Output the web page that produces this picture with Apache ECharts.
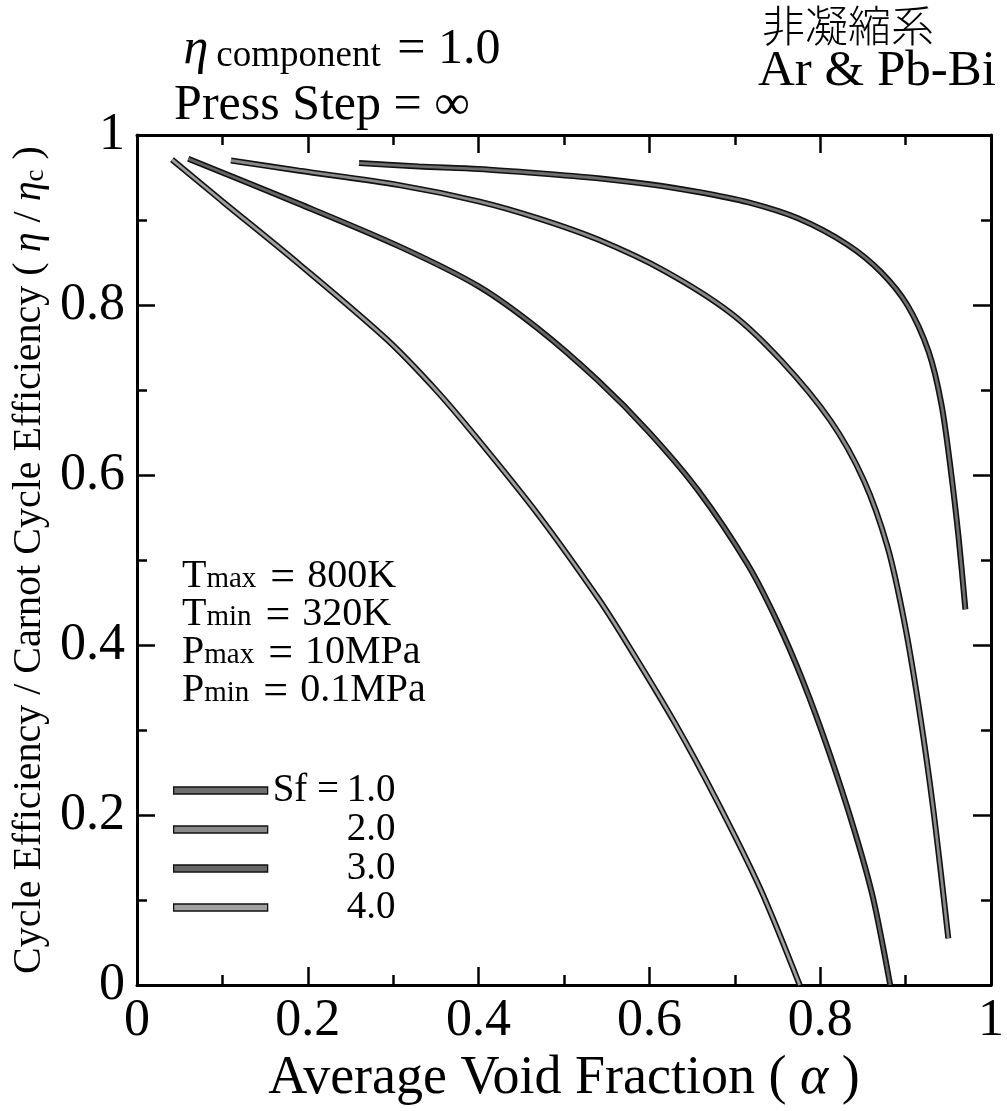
<!DOCTYPE html>
<html><head><meta charset="utf-8">
<script src="https://cdn.jsdelivr.net/npm/echarts@6/dist/echarts.min.js"></script>
<style>html,body{margin:0;padding:0;background:#fff}#c{width:1007px;height:1111px}</style>
</head><body><div id="c"></div>
<script>
// ---- data ----
const seriesNames = ['Sf = 1.0', '2.0', '3.0', '4.0'];
const sf1 = [[0.26,0.967],[0.33,0.963],[0.40,0.960],[0.47,0.955],[0.54,0.949],[0.60,0.942],[0.657,0.933],[0.715,0.921],[0.774,0.902],[0.832,0.871],[0.871,0.839],[0.902,0.800],[0.927,0.745],[0.942,0.683],[0.953,0.605],[0.962,0.527],[0.970,0.442]];
const sf2 = [[0.11,0.970],[0.19,0.958],[0.307,0.941],[0.40,0.922],[0.47,0.902],[0.54,0.877],[0.618,0.840],[0.696,0.790],[0.754,0.735],[0.812,0.664],[0.851,0.594],[0.879,0.515],[0.898,0.430],[0.915,0.330],[0.932,0.210],[0.950,0.055]];
const sf3 = [[0.06,0.972],[0.19,0.919],[0.307,0.869],[0.40,0.822],[0.47,0.772],[0.54,0.711],[0.599,0.651],[0.657,0.582],[0.715,0.495],[0.75,0.427],[0.78,0.357],[0.81,0.275],[0.84,0.182],[0.862,0.102],[0.882,0.0]];
const sf4 = [[0.041,0.971],[0.10,0.922],[0.19,0.848],[0.292,0.760],[0.35,0.700],[0.40,0.641],[0.47,0.553],[0.54,0.455],[0.575,0.400],[0.63,0.308],[0.68,0.215],[0.73,0.113],[0.776,0.0]];
const xTickLabels = ['0','0.2','0.4','0.6','0.8','1'];
const yTickLabels = ['0','0.2','0.4','0.6','0.8','1'];
const annotationLines = [['T','max','800K'],['T','min','320K'],['P','max','10MPa'],['P','min','0.1MPa']];

// ---- chart ----
const curveData = [sf1, sf2, sf3, sf4];
const curveColors = ['#6e6e6e', '#8a8a8a', '#666666', '#a0a0a0'];
const FONT = 'Liberation Serif';
const series = [];
curveData.forEach((d, i) => {
  series.push({name: 'edge' + i, type: 'line', data: d, smooth: 0.3, symbol: 'none', silent: true,
    lineStyle: {color: '#111', width: 6}, z: 2});
  series.push({name: seriesNames[i], type: 'line', data: d, smooth: 0.3, symbol: 'none',
    lineStyle: {color: curveColors[i], width: 2.8}, itemStyle: {color: curveColors[i]}, z: 3});
});

function tickFmt(labels) { return v => labels[Math.round(v / 0.2)] || ''; }
const axisCommon = {
  type: 'value', min: 0, max: 1, interval: 0.2,
  axisLine: {show: true, onZero: false, lineStyle: {color: '#000', width: 3}},
  axisTick: {show: true, inside: true, length: 18, lineStyle: {color: '#000', width: 2.5}},
  minorTick: {show: true, splitNumber: 2, length: 10, lineStyle: {color: '#000', width: 2.5}},
  splitLine: {show: false}
};
const chart = echarts.init(document.getElementById('c'), null, {renderer: 'canvas'});
const annText = annotationLines.map(l => `{m|${l[0]}}{s|${l[1]}}{e|=}{m|${l[2]}}`).join('\n');
chart.setOption({
  animation: false,
  backgroundColor: '#fff',
  grid: {left: 137, right: 12, top: 135, bottom: 121},
  xAxis: [
    Object.assign({}, axisCommon, {position: 'bottom',
      axisLabel: {show: true, margin: 10, color: '#000', fontFamily: FONT, fontSize: 52, formatter: tickFmt(xTickLabels)},
      name: 'Average Void Fraction ( {i|α} )', nameLocation: 'middle', nameGap: 66,
      nameTextStyle: {color: '#000', fontFamily: FONT, fontSize: 54, rich: {i: {fontFamily: FONT, fontStyle: 'italic', fontSize: 54}}}}),
    Object.assign({}, axisCommon, {position: 'top', axisLabel: {show: false}})
  ],
  yAxis: [
    Object.assign({}, axisCommon, {position: 'left',
      axisLabel: {show: true, margin: 12, color: '#000', fontFamily: FONT, fontSize: 52, formatter: tickFmt(yTickLabels)},
      name: 'Cycle Efficiency / Carnot Cycle Efficiency ( {i|η} / {i|η}{c|c} )', nameLocation: 'middle', nameRotate: 90, nameGap: 84,
      nameTextStyle: {color: '#000', fontFamily: FONT, fontSize: 40,
        rich: {i: {fontFamily: FONT, fontStyle: 'italic', fontSize: 40}, c: {fontFamily: FONT, fontSize: 27, verticalAlign: 'bottom', padding: [12, 0, 0, 0]}}}}),
    Object.assign({}, axisCommon, {position: 'right', axisLabel: {show: false}})
  ],
  legend: {
    orient: 'vertical', left: 173, top: 771, padding: 0, icon: 'rect', itemWidth: 94, itemHeight: 7, itemGap: 0,
    data: seriesNames,
    itemStyle: {borderColor: '#111', borderWidth: 1.3},
    formatter: n => n.indexOf('Sf') === 0 ? `{a|Sf = }{v|${n.replace('Sf = ', '')}}` : `{a|}{v|${n}}`,
    textStyle: {color: '#000', fontFamily: FONT, fontSize: 39, lineHeight: 37, padding: [0, 0, 0, 0],
      rich: {a: {width: 74, fontFamily: FONT, fontSize: 39}, v: {fontFamily: FONT, fontSize: 39}}}
  },
  graphic: [
    {type: 'text', x: 342, y: 50, style: {text: '{e|η}{s|component}{m| = 1.0}', align: 'center', verticalAlign: 'middle',
      rich: {e: {fontFamily: FONT, fontStyle: 'italic', fontSize: 50, lineHeight: 50, verticalAlign: 'top'},
             s: {fontFamily: FONT, fontSize: 37, lineHeight: 37, verticalAlign: 'bottom', padding: [0, 4, 0, 8]},
             m: {fontFamily: FONT, fontSize: 50, lineHeight: 50, verticalAlign: 'top'}}}},
    {type: 'text', x: 322, y: 106, style: {text: 'Press Step = ∞', align: 'center', verticalAlign: 'middle', font: `50px "${FONT}"`, fill: '#000'}},
    {type: 'text', x: 848, y: 26, style: {text: '非凝縮系', align: 'center', verticalAlign: 'middle', font: '300 43px "Noto Sans CJK JP"', fill: '#000'}},
    {type: 'text', x: 758, y: 72, style: {text: 'Ar & Pb-Bi', align: 'left', verticalAlign: 'middle', font: `51px "${FONT}"`, fill: '#000'}},
    {type: 'text', x: 182, y: 556, style: {text: annText, align: 'left', verticalAlign: 'top',
      rich: {m: {fontFamily: FONT, fontSize: 40, lineHeight: 38, verticalAlign: 'top', padding: [0, 0, 0, 0]},
             s: {fontFamily: FONT, fontSize: 29, lineHeight: 24, verticalAlign: 'bottom'},
             e: {fontFamily: FONT, fontSize: 44, lineHeight: 38, verticalAlign: 'top', padding: [0, 12, 0, 14]}}}}
  ],
  series: series
});
</script></body></html>
